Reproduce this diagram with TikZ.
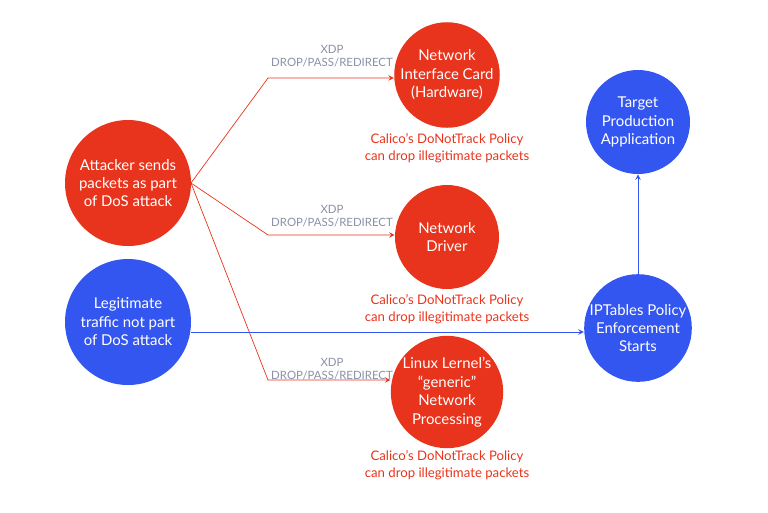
\documentclass[tikz,border=0pt]{standalone}
\usepackage{fontspec}
\setmainfont{Lato}
\definecolor{atkred}{HTML}{E8341C}
\definecolor{okblue}{HTML}{3355F0}
\definecolor{xdpgray}{HTML}{8A90A8}
\begin{document}
\begin{tikzpicture}[x=0.02cm,y=-0.02cm]
\tikzstyle{big}=[circle,minimum size=126*0.02cm,inner sep=0pt,text=white,font=\fontsize{8.5}{10.5}\selectfont,align=center]
\tikzstyle{small}=[big,minimum size=104*0.02cm]
\tikzstyle{xdp}=[text=xdpgray,font=\fontsize{6.5}{7.5}\selectfont,align=center]
\tikzstyle{note}=[text=atkred,font=\fontsize{7.5}{10}\selectfont,align=center]
\useasboundingbox (0,0) rectangle (768,512);
\node [big,fill=atkred] (atk) at (128,183) {Attacker sends\\packets as part\\of DoS attack};
\node [big,fill=okblue] (legit) at (128,322) {Legitimate\\traffic not part\\of DoS attack};
\node [small,fill=atkred] (nic) at (447,75) {Network\\Interface Card\\(Hardware)};
\node [small,fill=atkred] (drv) at (447,237) {Network\\Driver};
\node [small,fill=atkred] (lnx) at (447,392) {Linux Lernel's\\``generic''\\Network\\Processing};
\node [small,fill=okblue] (ipt) at (638,328) {IPTables Policy\\Enforcement\\Starts};
\node [small,fill=okblue] (tgt) at (638,122) {Target\\Production\\Application};
% attack paths
\coordinate (src) at (191,183);
\coordinate (b1) at (268,78);
\coordinate (b2) at (268,235);
\coordinate (b3) at (268,380);
\draw [atkred,->,>=stealth] (src) -- (b1) -- (b1 -| nic.west);
\draw [atkred,->,>=stealth] (src) -- (b2) -- (b2 -| drv.west);
\draw [atkred,->,>=stealth] (src) -- (b3) -- (b3 -| lnx.west);
\node [xdp] (x1) at (332,56) {XDP\\DROP/PASS/REDIRECT};
\node [xdp] (x2) at (332,216) {XDP\\DROP/PASS/REDIRECT};
\node [xdp] (x3) at (332,369) {XDP\\DROP/PASS/REDIRECT};
\node [note] (n1) at (447,148) {Calico's DoNotTrack Policy\\can drop illegitimate packets};
\node [note] (n2) at (447,309) {Calico's DoNotTrack Policy\\can drop illegitimate packets};
\node [note] (n3) at (447,465) {Calico's DoNotTrack Policy\\can drop illegitimate packets};
% legit path
\draw [okblue,->,>=stealth] (legit.east |- 0,332) -- (ipt.west |- 0,332);
\draw [okblue,->,>=stealth] (ipt) -- (tgt);
\end{tikzpicture}
\end{document}
